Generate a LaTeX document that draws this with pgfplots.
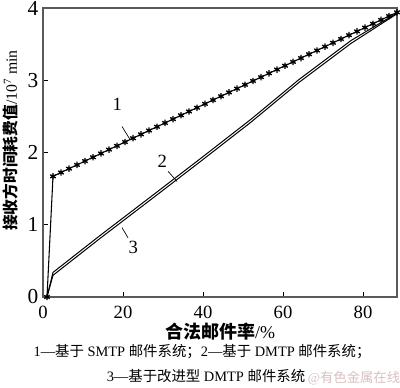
\documentclass[border=0pt]{standalone}
\usepackage{fontspec}
\setmainfont{Liberation Serif}
\newfontfamily\cjk{Noto Sans CJK SC}
\usepackage{pgfplots}
\pgfplotsset{compat=1.18}
\begin{document}
\begin{tikzpicture}[x=0.75pt,y=0.75pt]
\begin{axis}[
  name=ax,
  scale only axis, width=265.5pt, height=216.75pt,
  xmin=0, xmax=88.5, ymin=0, ymax=4,
  xtick={0,20,40,60,80}, ytick={0,1,2,3,4},
  tick align=inside, xtick pos=bottom, ytick pos=left,
  major tick length=4pt,
  tick style={black, line width=0.6pt},
  axis line style={draw=black!65, line width=1pt},
  /pgf/number format/assume math mode=true,
  xticklabel style={font=\fontsize{14}{14}\selectfont, yshift=-3pt},
  yticklabel style={font=\fontsize{16}{16}\selectfont, xshift=0pt},
  xlabel={{\cjk\bfseries 合法邮件率}/\%},
  xlabel style={font=\fontsize{13.5}{13.5}\selectfont, yshift=1pt, inner sep=1pt},
  ylabel={{\cjk\bfseries 接收方时间耗费值}/10\textsuperscript{7} min},
  ylabel style={font=\fontsize{11.8}{12}\selectfont, yshift=0pt, xshift=9pt},
  clip=false,
]
\addplot[black, line width=0.8pt, mark=asterisk, mark size=2.4pt, mark options={line width=1pt}] coordinates {
(1,0) (2.5,1.670) (4.5,1.723) (6.5,1.776) (8.5,1.828) (10.5,1.881) (12.5,1.934) (14.5,1.987)
(16.5,2.040) (18.5,2.092) (20.5,2.145) (22.5,2.198) (24.5,2.251) (26.5,2.304) (28.5,2.356)
(30.5,2.409) (32.5,2.462) (34.5,2.515) (36.5,2.568) (38.5,2.620) (40.5,2.673) (42.5,2.726)
(44.5,2.779) (46.5,2.832) (48.5,2.884) (50.5,2.937) (52.5,2.990) (54.5,3.043) (56.5,3.096)
(58.5,3.148) (60.5,3.201) (62.5,3.254) (64.5,3.307) (66.5,3.360) (68.5,3.412) (70.5,3.465)
(72.5,3.518) (74.5,3.571) (76.5,3.624) (78.5,3.676) (80.5,3.729) (82.5,3.782) (84.5,3.835)
(86.5,3.888) (88.5,3.940)};
\addplot[black, line width=0.75pt] coordinates {
(1,0) (2.5,0.34) (14,0.84) (27,1.39) (39,1.90) (52,2.46) (64,3.01) (77,3.55) (88.5,3.93)};
\addplot[black, line width=0.75pt] coordinates {
(1,0) (2.5,0.30) (14,0.80) (27,1.35) (39,1.86) (52,2.42) (64,2.97) (77,3.51) (88.5,3.92)};
\draw[black, line width=0.5pt] (axis cs:19.75,2.36) -- (axis cs:21.75,2.18);
\node[font=\fontsize{14}{14}\selectfont] at (axis cs:18.6,2.66) {1};
\draw[black, line width=0.5pt] (axis cs:31.25,1.74) -- (axis cs:33.5,1.60);
\node[font=\fontsize{14}{14}\selectfont] at (axis cs:29.8,1.88) {2};
\draw[black, line width=0.5pt] (axis cs:19.75,0.96) -- (axis cs:21.25,0.82);
\node[font=\fontsize{14}{14}\selectfont] at (axis cs:22.6,0.68) {3};
\end{axis}
\node[font=\fontsize{10.8}{11}\selectfont] at (159,-55) {1—{\cjk 基于} SMTP {\cjk 邮件系统；}2—{\cjk 基于} DMTP {\cjk 邮件系统；}};
\node[font=\fontsize{10.8}{11}\selectfont] at (163,-79) {3—{\cjk 基于改进型} DMTP {\cjk 邮件系统}};
\node[font=\fontsize{10}{10}\selectfont, text=red!25!gray!40] at (311,-81) {@{\cjk 有色金属在线}};
\pgfresetboundingbox
\path[use as bounding box] (-43,-91) rectangle (357,297);
\end{tikzpicture}
\end{document}
